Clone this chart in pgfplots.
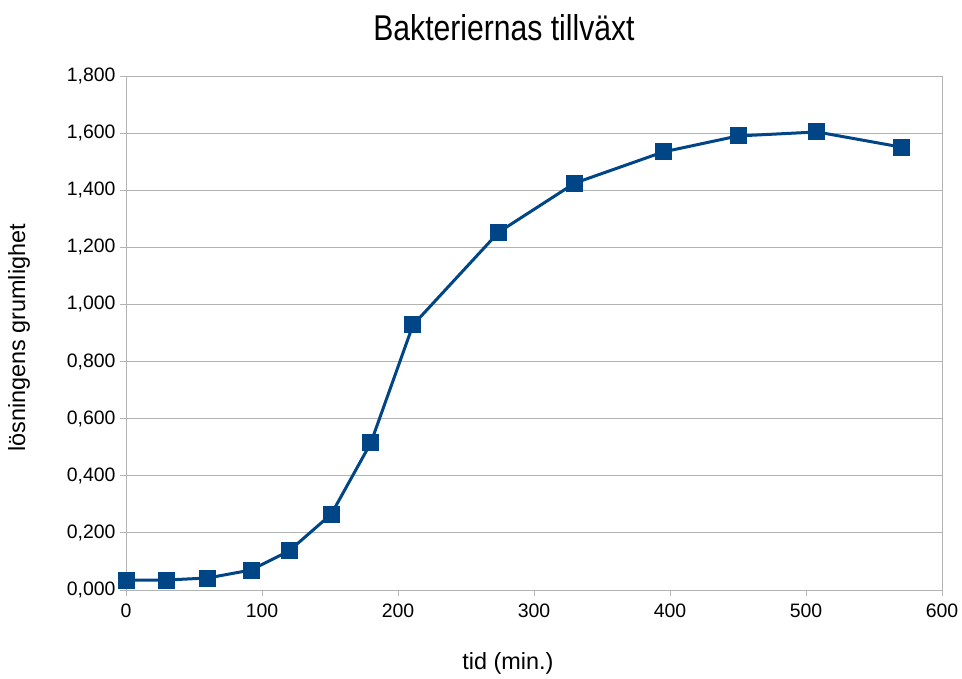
\documentclass[border=0pt]{standalone}
\usepackage{pgfplots}
\pgfplotsset{compat=1.18}
\usepackage{fontspec}
\setmainfont{Liberation Sans}
\newfontfamily\titlefont[FakeStretch=0.84]{Liberation Sans}
\definecolor{series}{HTML}{004586}
\definecolor{gridc}{HTML}{B3B3B3}
\begin{document}
\begin{tikzpicture}[x=1bp,y=1bp]
\useasboundingbox (0,0) rectangle (962,679);
\begin{axis}[
  at={(126bp,89bp)}, anchor=south west,
  width=816bp, height=514bp, scale only axis=true,
  xmin=0, xmax=600, ymin=0, ymax=1.8,
  xtick={0,100,...,600},
  ytick={0,0.2,...,1.8},
  ymajorgrids=true,
  grid style={gridc, line width=0.8bp},
  axis line style={gridc, line width=0.8bp},
  tick style={gridc, line width=0.8bp},
  tick align=outside, tick pos=left,
  major tick length=6bp,
  ticklabel style={font=\fontsize{19.5}{21}\selectfont, text=black},
  /pgf/number format/assume math mode=true,
  yticklabel style={/pgf/number format/.cd, fixed, fixed zerofill, precision=3, use comma, 1000 sep={}},
  xticklabel style={/pgf/number format/.cd, fixed, precision=0, 1000 sep={}},
  yticklabel shift=1bp,
  xticklabel shift=4bp,
  clip=false,
]
\addplot[series, line width=3bp, mark=square*, mark size=8bp, mark options={fill=series, draw=series, line width=0pt}]
coordinates {
(0,0.035) (30,0.035) (60,0.042) (92,0.070) (120,0.137) (151,0.266) (180,0.515) (211,0.928) (274,1.253) (330,1.425) (395,1.534) (450,1.590) (508,1.604) (570,1.551)
};
\end{axis}
\node[font=\titlefont\fontsize{36}{40}\selectfont] at (504,651) {Bakteriernas tillväxt};
\node[font=\fontsize{23.5}{26}\selectfont] at (508,16) {tid (min.)};
\node[font=\fontsize{23.5}{26}\selectfont, rotate=90] at (19,341) {lösningens grumlighet};
\end{tikzpicture}
\end{document}
